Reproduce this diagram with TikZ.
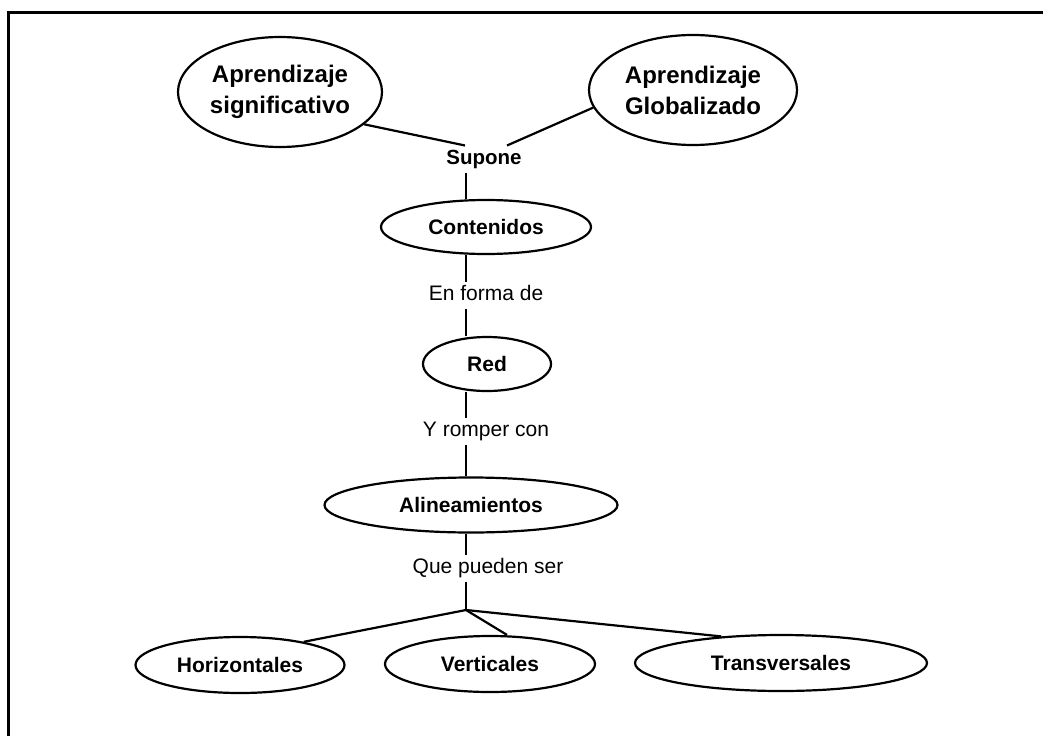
\documentclass[tikz,border=0pt]{standalone}
\usepackage{fontspec}
\setmainfont{Liberation Sans}
\usetikzlibrary{shapes.geometric}
\begin{document}
\begin{tikzpicture}[x=1pt,y=-1pt,
  concept/.style={ellipse,draw,line width=2.2pt,inner sep=0pt,font=\fontsize{21}{25}\selectfont\bfseries},
  big/.style={concept,font=\fontsize{24}{31}\selectfont\bfseries,align=center},
  lbl/.style={inner sep=0pt,outer sep=0pt,text height=15pt,text depth=4pt,minimum height=27pt,font=\fontsize{21}{25}\selectfont},
  conn/.style={line width=2.2pt},
  frame/.style={line width=3pt}]
\useasboundingbox (0,0) rectangle (1043,736);
% frame
\coordinate (ftr) at (1043,12);
\coordinate (ftl) at (8,12);
\coordinate (fbl) at (8,736);
\draw[frame] (ftr) -- (ftl) -- (fbl);
% concept nodes
\node[big,minimum width=204pt,minimum height=110pt] (sig) at (280,92) {Aprendizaje\\significativo};
\node[big,minimum width=208pt,minimum height=110pt] (glob) at (693,90) {Aprendizaje\\Globalizado};
\node[concept,minimum width=210pt,minimum height=54pt] (cont) at (486,227) {Contenidos};
\node[concept,minimum width=128pt,minimum height=54pt] (red) at (487,364) {Red};
\node[concept,minimum width=293pt,minimum height=55pt] (alin) at (471,505) {Alineamientos};
\node[concept,minimum width=209pt,minimum height=56pt] (hor) at (240,665) {Horizontales};
\node[concept,minimum width=210pt,minimum height=56pt] (ver) at (490,664) {Verticales};
\node[concept,minimum width=292pt,minimum height=56pt] (tra) at (781,663) {Transversales};
% link labels
\node[lbl,font=\fontsize{20.5}{25}\selectfont\bfseries] (sup) at (484,159) {Supone};
\node[lbl] (enf) at (486,295) {En forma de};
\node[lbl] (yrc) at (486,431) {Y romper con};
\node[lbl] (qps) at (488,568) {Que pueden ser};
\coordinate (j) at (466,610);
% connectors
\draw[conn] (sig.-21) -- ([xshift=-19]sup.north);
\draw[conn] (glob.190) -- ([xshift=23]sup.north);
\draw[conn] ([xshift=-18]sup.south) -- ([xshift=-20]cont.north);
\draw[conn] ([xshift=-20]cont.south) -- ([xshift=-20]enf.north);
\draw[conn] ([xshift=-20]enf.south) -- ([xshift=-21]red.north);
\draw[conn] ([xshift=-21]red.south) -- ([xshift=-20]yrc.north);
\draw[conn] ([xshift=-20]yrc.south) -- ([xshift=-5]alin.north);
\draw[conn] ([xshift=-5]alin.south) -- ([xshift=-22]qps.north);
\draw[conn] ([xshift=-22]qps.south) -- (j);
\draw[conn] (j) -- (hor.20);
\draw[conn] (j) -- ([xshift=17]ver.north);
\draw[conn] (j) -- (tra.156);
\end{tikzpicture}
\end{document}
